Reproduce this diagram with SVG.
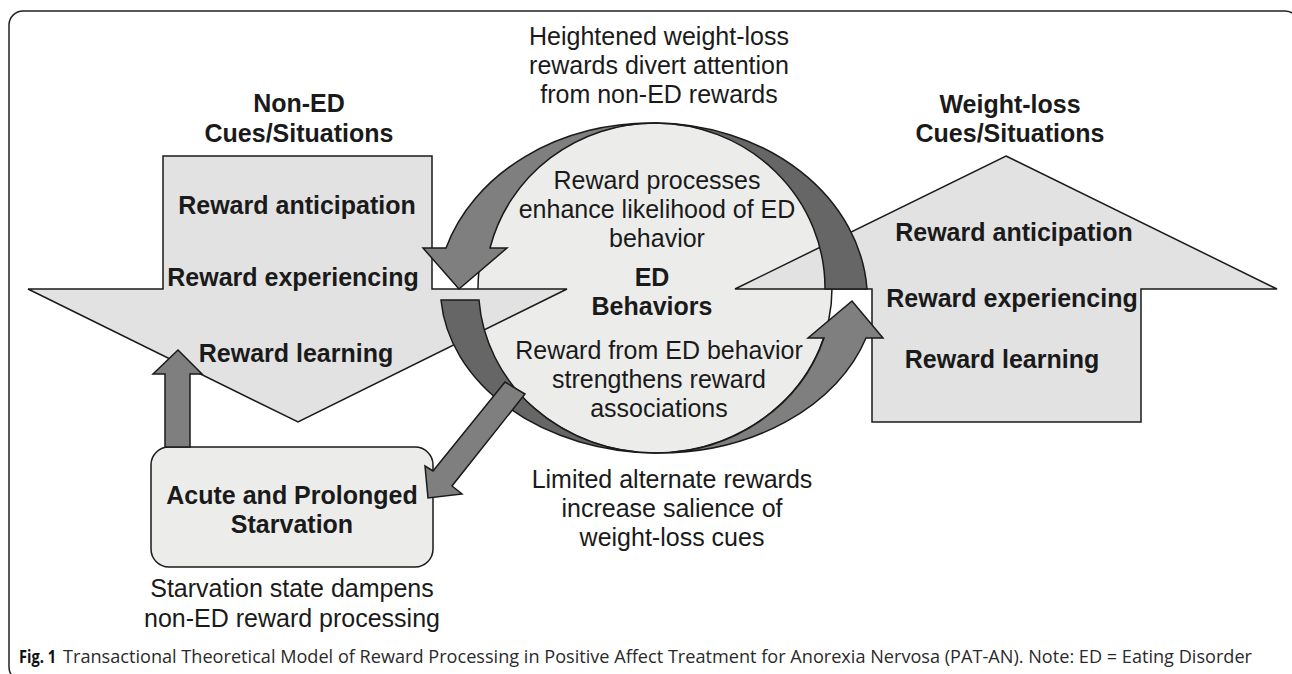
<svg xmlns="http://www.w3.org/2000/svg" width="1292" height="674" viewBox="0 0 1292 674">
<style>
.t{font-family:"Liberation Sans",Arial,sans-serif;font-size:25px;fill:#1a1a1a;text-anchor:middle}
.b{font-weight:bold}
.light{fill:#e2e2e2;stroke:#1a1a1a;stroke-width:1.5;stroke-linejoin:miter}
.pale{fill:#ecedeb;stroke:#1a1a1a;stroke-width:1.5}
.dk{fill:#666666;stroke:#1a1a1a;stroke-width:1.5;stroke-linejoin:miter}
.md{fill:#7f7f7f;stroke:#1a1a1a;stroke-width:1.5;stroke-linejoin:miter}
.cap{font-family:"Open Sans","Noto Sans",sans-serif;font-size:18px;fill:#2a2a2a}
</style>
<rect x="9" y="11" width="1290" height="670" rx="14" fill="none" stroke="#222" stroke-width="1.5"/>

<g id="ed-behaviors">
<ellipse class="pale" cx="655" cy="288" rx="177" ry="165"/>
<text class="t" x="657" y="189">Reward processes</text>
<text class="t" x="657" y="218">enhance likelihood of ED</text>
<text class="t" x="657" y="247">behavior</text>
<text class="t b" x="652" y="286">ED</text>
<text class="t b" x="652" y="315">Behaviors</text>
<text class="t" x="659" y="359">Reward from ED behavior</text>
<text class="t" x="659" y="388">strengthens reward</text>
<text class="t" x="659" y="417">associations</text>
</g>

<g id="non-ed-cues">
<polygon class="light" points="163,156 432,156 432,289 567,289 298,422 28,289 163,289"/>
<text class="t b" x="299" y="112">Non-ED</text>
<text class="t b" x="299" y="142">Cues/Situations</text>
<text class="t b" x="297" y="214">Reward anticipation</text>
<text class="t b" x="293" y="286">Reward experiencing</text>
<text class="t b" x="296" y="362">Reward learning</text>
</g>

<g id="weight-loss-cues">
<polygon class="light" points="1006,156 1277,289 1141,289 1141,422 872,422 872,289 735,289"/>
<text class="t b" x="1010" y="113">Weight-loss</text>
<text class="t b" x="1010" y="142">Cues/Situations</text>
<text class="t b" x="1014" y="241">Reward anticipation</text>
<text class="t b" x="1012" y="307">Reward experiencing</text>
<text class="t b" x="1002" y="368">Reward learning</text>
</g>

<g id="starvation">
<rect class="pale" x="151" y="447" width="282" height="120" rx="18"/>
<text class="t b" x="292" y="504">Acute and Prolonged</text>
<text class="t b" x="292" y="533">Starvation</text>
</g>

<g id="connectors">
<path class="dk" d="M655,123 A214 177 0 0 1 867,289 L825,289 A170 165 0 0 0 655,123 Z"/>
<path class="md" d="M655,123 A214 177 0 0 0 446,248 L423,248 L459,289 L507,248 L490,248 A170 165 0 0 1 655,123 Z"/>
<path class="dk" d="M441,300 A218 165 0 0 0 655,453 A177 165 0 0 1 479,300 Z"/>
<path class="md" d="M655,453 A218 165 0 0 0 866,338 L883,338 L852,301 L808,338 L824,338 A177 165 0 0 1 655,453 Z"/>
<polygon class="md" points="505,382 433,471 425,466 428,498 462,494 452,486 525,394"/>
<polygon class="md" points="165,447 165,374 153,374 178,350 202,374 190,374 190,447"/>
</g>

<g id="labels">
<text class="t" x="659" y="45">Heightened weight-loss</text>
<text class="t" x="659" y="74">rewards divert attention</text>
<text class="t" x="659" y="103">from non-ED rewards</text>
<text class="t" x="672" y="488">Limited alternate rewards</text>
<text class="t" x="672" y="517">increase salience of</text>
<text class="t" x="672" y="546">weight-loss cues</text>
<text class="t" x="292" y="597">Starvation state dampens</text>
<text class="t" x="292" y="627">non-ED reward processing</text>
</g>

<g id="caption">
<text class="cap" x="19" y="663" textLength="37" lengthAdjust="spacingAndGlyphs" style="font-weight:bold;fill:#111">Fig. 1</text>
<text class="cap" x="63" y="663" textLength="1189" lengthAdjust="spacingAndGlyphs">Transactional Theoretical Model of Reward Processing in Positive Affect Treatment for Anorexia Nervosa (PAT-AN). Note: ED = Eating Disorder</text>
</g>
</svg>
